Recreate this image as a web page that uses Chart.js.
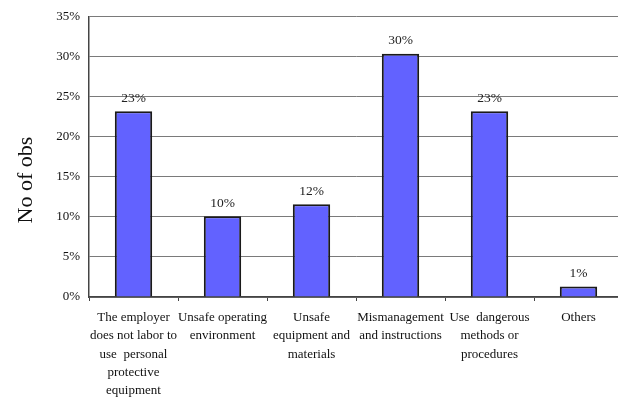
<!DOCTYPE html>
<html>
<head>
<meta charset="utf-8">
<script src="https://cdn.jsdelivr.net/npm/chart.js@4"></script>
<style>
  html, body { margin: 0; padding: 0; background: #fff; overflow: hidden; }
  #wrap { width: 618px; height: 400px; overflow: hidden; }
</style>
</head>
<body>
<div id="wrap"><canvas id="c" width="623" height="400"></canvas></div>
<script>
const categories = [
  ["The employer", "does not labor to", "use  personal", "protective", "equipment"],
  ["Unsafe operating", "environment"],
  ["Unsafe", "equipment and", "materials"],
  ["Mismanagement", "and instructions"],
  ["Use  dangerous", "methods or", "procedures"],
  ["Others"]
];
const values = [23.2, 10.1, 11.6, 30.4, 23.2, 1.3];
const valueLabels = ["23%", "10%", "12%", "30%", "23%", "1%"];
const yTicks = [0, 5, 10, 15, 20, 25, 30, 35];
const yTitle = "No of obs";

const FONT = "'Liberation Serif', 'Times New Roman', serif";

const barLabels = {
  id: 'barLabels',
  afterDatasetsDraw(chart) {
    const ctx = chart.ctx;
    const meta = chart.getDatasetMeta(0);
    ctx.save();
    ctx.font = "13.5px " + FONT;
    ctx.fillStyle = "#222";
    ctx.textAlign = "center";
    ctx.textBaseline = "bottom";
    meta.data.forEach((bar, i) => {
      ctx.fillText(valueLabels[i], bar.x, bar.y - 6);
    });
    // y-axis title, placed slightly below the plot centre as in the reference
    const y = chart.scales.y;
    const cy = y.getPixelForValue(14.6);
    ctx.font = "22px " + FONT;
    ctx.fillStyle = "#111";
    ctx.textBaseline = "middle";
    ctx.translate(26, cy);
    ctx.rotate(-Math.PI / 2);
    ctx.fillText(yTitle, 0, 0);
    ctx.restore();
  }
};

new Chart(document.getElementById('c'), {
  type: 'bar',
  data: {
    labels: categories,
    datasets: [{
      data: values,
      backgroundColor: '#6262ff',
      borderColor: '#1a1a1a',
      borderWidth: 2,
      barPercentage: 0.42,
      categoryPercentage: 1.0
    }]
  },
  options: {
    responsive: false,
    animation: false,
    devicePixelRatio: 1,
    layout: { padding: { top: 14, left: 0, right: 0, bottom: 0 } },
    plugins: { legend: { display: false }, tooltip: { enabled: false } },
    scales: {
      x: {
        afterFit: s => { s.height = 103; },
        grid: { display: true, drawOnChartArea: false, drawTicks: true, tickLength: 4, color: '#444', offset: true },
        border: { display: true, color: '#444', width: 1.5 },
        ticks: { font: { family: FONT, size: 13, lineHeight: 1.42 }, color: '#111', padding: 7, maxRotation: 0, autoSkip: false }
      },
      y: {
        min: 0, max: 35,
        afterFit: s => { s.width = 89; },
        afterBuildTicks: s => { s.ticks = yTicks.map(v => ({ value: v })); },
        grid: { color: '#7a7a7a', lineWidth: 1, drawTicks: false },
        border: { display: true, color: '#444', width: 1.5 },
        ticks: { font: { family: FONT, size: 13 }, color: '#111', padding: 9, callback: v => v + '%' },
        title: { display: false }
      }
    }
  },
  plugins: [barLabels]
});
</script>
</body>
</html>
